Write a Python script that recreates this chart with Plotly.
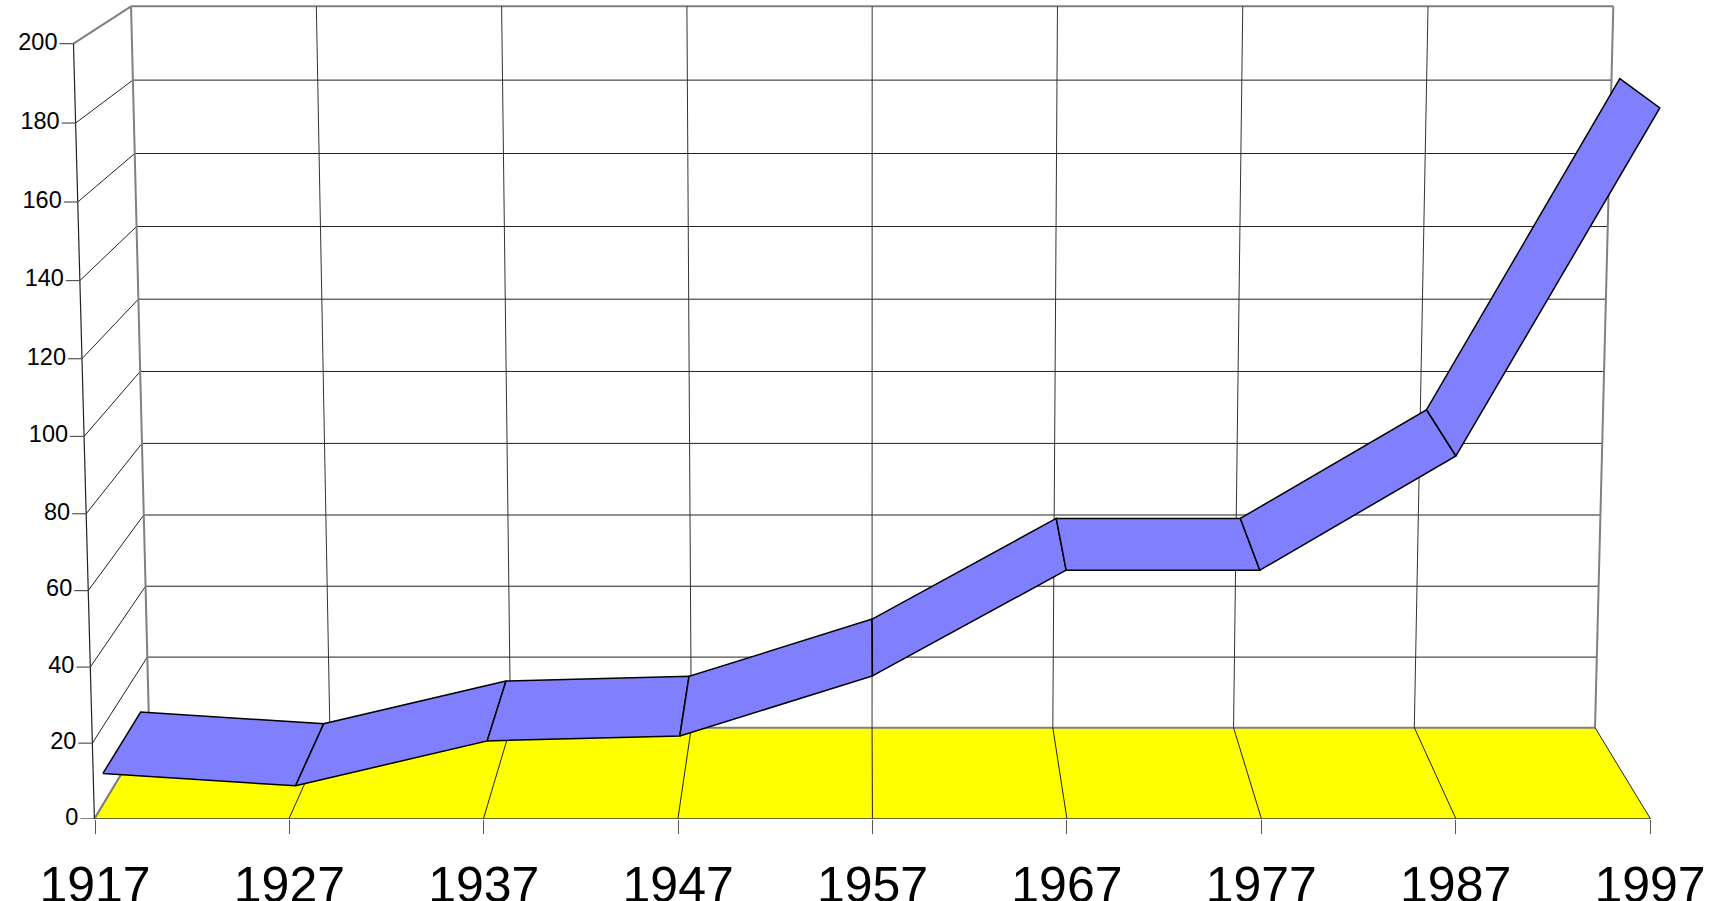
import numpy as np
import plotly.graph_objects as go

# --- data ---
years = [1917, 1927, 1937, 1947, 1957, 1967, 1977, 1987, 1997]
values = [8, 4.7, 16.7, 18, 34, 62, 62, 92, 182]
y_ticks = [0, 20, 40, 60, 80, 100, 120, 140, 160, 180, 200]
ribbon_front_depth = 0.16
ribbon_back_depth = 0.85

# --- perspective camera calibrated on the box corners (year, value, depth) -> screen px ---
camera_world = [(1917, 0, 0), (1997, 0, 0), (1917, 0, 1), (1997, 0, 1),
                (1917, 200, 0), (1997, 200, 0), (1917, 200, 1), (1997, 200, 1)]
camera_screen = [(95, 819), (1650, 819), (148.5, 727.5), (1595.5, 727.5),
                 (73, 43.5), (1672, 43.5), (131.5, 6.5), (1613, 6.5)]

A, b = [], []
for (X, Y, Z), (sx, sy) in zip(camera_world, camera_screen):
    X = (X - 1917) / 80; Y = Y / 200
    A.append([X, Y, Z, 1, 0, 0, 0, 0, -sx * X, -sx * Y, -sx * Z]); b.append(sx)
    A.append([0, 0, 0, 0, X, Y, Z, 1, -sy * X, -sy * Y, -sy * Z]); b.append(sy)
P = np.linalg.lstsq(np.array(A, float), np.array(b, float), rcond=None)[0]


def screen(year, value, depth):
    X = (year - 1917) / 80; Y = value / 200; Z = depth
    w = P[8] * X + P[9] * Y + P[10] * Z + 1
    return (P[0] * X + P[1] * Y + P[2] * Z + P[3]) / w, (P[4] * X + P[5] * Y + P[6] * Z + P[7]) / w


# axis units: x is calendar years along the front edge, y is one unit per px from the baseline
YEARS_PER_PX = 80 / (1650 - 95)
BASE_PX = 819


def to_axis(sx, sy):
    return 1917 + (sx - 95) * YEARS_PER_PX, BASE_PX - sy


def path(points):
    pts = [to_axis(*screen(*p)) for p in points]
    return [p[0] for p in pts], [p[1] for p in pts]


fig = go.Figure()


def line(points, color="#222222", width=1.0):
    x, y = path(points)
    fig.add_trace(go.Scatter(x=x, y=y, mode="lines", line=dict(color=color, width=width),
                             hoverinfo="skip", showlegend=False))


GRAY = "#808080"
# floor
x, y = path([(years[0], 0, 0), (years[-1], 0, 0), (years[-1], 0, 1), (years[0], 0, 1)])
fig.add_trace(go.Scatter(x=x, y=y, fill="toself", fillcolor="#ffff00", mode="lines",
                         line=dict(color="rgba(0,0,0,0)", width=0), hoverinfo="skip", showlegend=False))
# back wall and side wall grid
for v in y_ticks:
    edge = v in (0, 200)
    line([(years[0], v, 1), (years[-1], v, 1)], GRAY if edge else "#222222", 2 if edge else 1)
    line([(years[0], v, 0), (years[0], v, 1)], GRAY if edge else "#222222", 2 if edge else 1)
for yr in years:
    edge = yr in (years[0], years[-1])
    line([(yr, 0, 1), (yr, 200, 1)], GRAY if edge else "#333333", 2 if edge else 1)
    if yr != years[0]:
        line([(yr, 0, 0), (yr, 0, 1)], "#222222", 1)
line([(years[0], 0, 0), (years[0], 0, 1)], GRAY, 1.5)
line([(years[0], 0, 0), (years[-1], 0, 0)], "#333333", 1.2)
line([(years[0], 0, 0), (years[0], 200, 0)], "#222222", 1.2)

# y ticks and labels following the slanted front edge
lab_x, lab_y = [], []
for v in y_ticks:
    sx, sy = screen(years[0], v, 0)
    a = to_axis(sx, sy)
    t = to_axis(sx - 14, sy)
    fig.add_trace(go.Scatter(x=[t[0], a[0]], y=[t[1], a[1]], mode="lines",
                             line=dict(color="#555555", width=1.2), hoverinfo="skip", showlegend=False))
    lab = to_axis(sx - 16, sy)
    lab_x.append(lab[0]); lab_y.append(lab[1])
fig.add_trace(go.Scatter(x=lab_x, y=lab_y, mode="text", text=[str(v) for v in y_ticks],
                         textposition="middle left",
                         textfont=dict(family="Liberation Sans", size=23.5, color="#000000"),
                         hoverinfo="skip", showlegend=False, cliponaxis=False))

# ribbon
for i in range(len(years) - 1):
    x, y = path([(years[i], values[i], ribbon_front_depth),
                 (years[i + 1], values[i + 1], ribbon_front_depth),
                 (years[i + 1], values[i + 1], ribbon_back_depth),
                 (years[i], values[i], ribbon_back_depth),
                 (years[i], values[i], ribbon_front_depth)])
    fig.add_trace(go.Scatter(x=x, y=y, fill="toself", fillcolor="#8080ff", mode="lines",
                             line=dict(color="#000000", width=1.5), hoverinfo="skip", showlegend=False))

fig.update_layout(
    width=1729, height=901, autosize=False,
    margin=dict(l=0, r=0, t=0, b=901 - BASE_PX, autoexpand=False),
    paper_bgcolor="#ffffff", plot_bgcolor="#ffffff", showlegend=False,
    xaxis=dict(range=[1917 - 95 * YEARS_PER_PX, 1917 + (1729 - 95) * YEARS_PER_PX],
               tickvals=years, ticktext=[str(y) for y in years], ticks="outside", ticklen=14,
               tickcolor="#555555", tickwidth=1.2, showgrid=False, zeroline=False, showline=False,
               automargin=False, ticklabelstandoff=8,
               tickfont=dict(family="Liberation Sans", size=50, color="#000000")),
    yaxis=dict(range=[0, BASE_PX], visible=False, fixedrange=True, automargin=False),
)
fig.write_html("out.html", config=dict(displayModeBar=False),
               post_script="document.body.style.margin='0';document.documentElement.style.overflow='hidden';")
